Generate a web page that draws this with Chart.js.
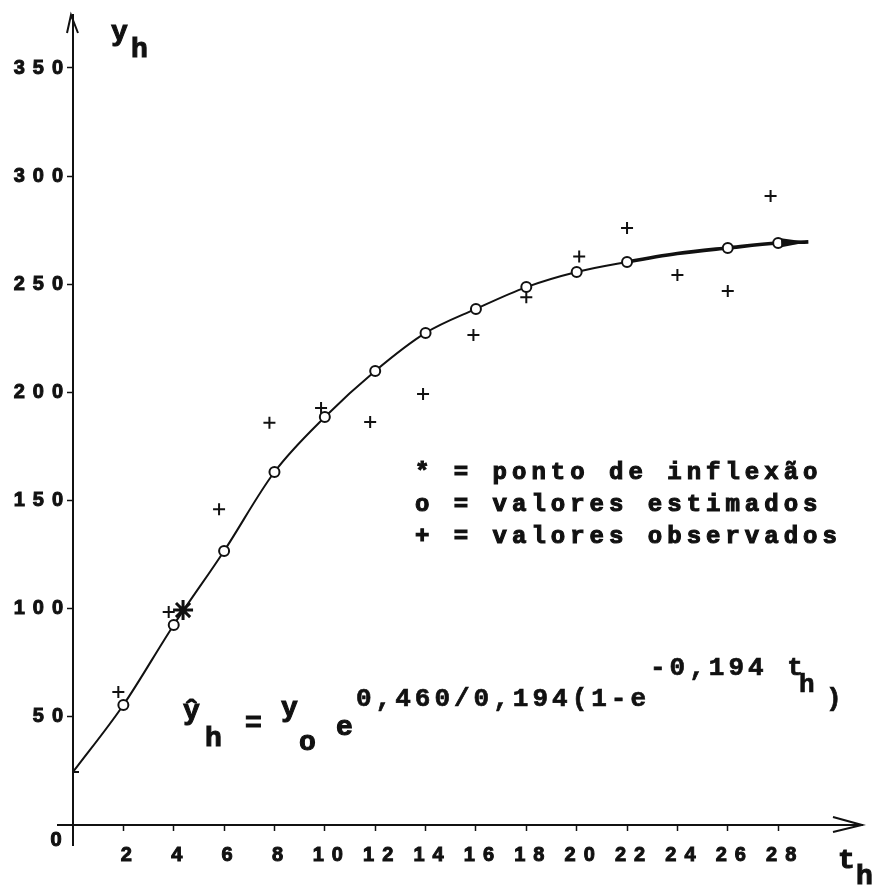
<!DOCTYPE html>
<html>
<head>
<meta charset="utf-8">
<script src="https://cdn.jsdelivr.net/npm/chart.js@4"></script>
<style>
  html, body { margin: 0; background: #fff; }
  canvas { display: block; }
</style>
</head>
<body>
<canvas id="chart" width="881" height="885"></canvas>
<script>
// tick labels
const xTicks = [2, 4, 6, 8, 10, 12, 14, 16, 18, 20, 22, 24, 26, 28];
const yTicks = [50, 100, 150, 200, 250, 300, 350];

// fitted curve
const tCurve = [0, 2, 4, 6, 8, 10, 12, 14, 16, 18, 20, 22, 24, 26, 28, 29.2];
const yCurve = [24.5, 55.5, 92.5, 126.7, 163.2, 188.6, 209.9, 227.5, 238.6, 248.7, 255.7, 260.3, 264.2, 266.8, 269.1, 269.6];

// o = valores estimados
const tEst = [2, 4, 6, 8, 10, 12, 14, 16, 18, 20, 22, 26, 28];
const yEst = [55.5, 92.5, 126.7, 163.2, 188.6, 209.9, 227.5, 238.6, 248.7, 255.7, 260.3, 266.8, 269.1];

// + = valores observados
const tObs = [0, 1.8, 3.8, 5.8, 7.8, 9.85, 11.8, 13.9, 15.9, 18.0, 20.1, 22.0, 24.0, 26.0, 27.7];
const yObs = [24.5, 61.5, 98.5, 146, 186, 192.8, 186.3, 199.3, 226.5, 244, 262.8, 276, 254.3, 246.9, 290.8];

// * = ponto de inflexão
const tInflex = [4.37];
const yInflex = [99.4];

const legendLines = ['* = ponto de inflexão', 'o = valores estimados', '+ = valores observados'];

const ink = '#111';
const toPoints = (xs, ys) => xs.map((x, i) => ({ x: x, y: ys[i] }));
const tickFont = { family: 'Liberation Sans', weight: 'bold', size: 20 };

// fill + thin stroke, to get the heavy typewriter look
function typeText(ctx, text, x, y) {
    ctx.fillText(text, x, y);
    ctx.strokeText(text, x, y);
}

const sketch = {
    id: 'sketch',
    beforeDraw(chart) {
        // spaced-out typewriter digits on the axes
        chart.ctx.letterSpacing = '8px';
    },
    afterDatasetsDraw(chart) {
        // wedge arrowhead at the end of the curve
        const ctx = chart.ctx;
        const pts = chart.getDatasetMeta(0).data;
        const a = pts[pts.length - 2], b = pts[pts.length - 1];
        const dx = b.x - a.x, dy = b.y - a.y, len = Math.hypot(dx, dy);
        const ux = dx / len, uy = dy / len;
        const bx = a.x + ux * 3, by = a.y + uy * 3;
        ctx.save();
        ctx.fillStyle = ink;
        ctx.beginPath();
        ctx.moveTo(bx - uy * 4.5, by + ux * 4.5);
        ctx.lineTo(b.x, b.y);
        ctx.lineTo(bx + uy * 4.5, by - ux * 4.5);
        ctx.closePath();
        ctx.fill();
        ctx.restore();
    },
    afterDraw(chart) {
        const ctx = chart.ctx;
        const area = chart.chartArea;
        const x0 = chart.scales.x.getPixelForValue(0);
        const y0 = chart.scales.y.getPixelForValue(0);
        ctx.save();
        ctx.letterSpacing = '0px';
        ctx.strokeStyle = ink;
        ctx.fillStyle = ink;
        ctx.lineWidth = 2;

        // axis extensions past the origin + arrows
        ctx.beginPath();
        ctx.moveTo(x0, y0); ctx.lineTo(x0, y0 + 21);
        ctx.moveTo(x0 - 16, y0); ctx.lineTo(x0, y0);
        ctx.moveTo(x0 - 6, area.top + 18); ctx.lineTo(x0 - 2, area.top); ctx.lineTo(x0 + 5, area.top + 18);
        ctx.moveTo(area.right - 29, y0 - 8); ctx.lineTo(area.right, y0); ctx.lineTo(area.right - 29, y0 + 7);
        ctx.stroke();

        ctx.lineWidth = 1.1;
        ctx.textBaseline = 'middle';
        ctx.textAlign = 'center';
        ctx.font = 'bold 20px "Liberation Sans"';
        typeText(ctx, '0', 56, 840);

        // axis titles
        ctx.textAlign = 'left';
        ctx.textBaseline = 'alphabetic';
        ctx.font = 'bold 28px "Liberation Mono"';
        typeText(ctx, 'y', 111, 40);
        typeText(ctx, 'h', 131, 57);
        typeText(ctx, 't', 838, 868);
        typeText(ctx, 'h', 856, 884);

        // legend
        ctx.font = 'bold 24px "Liberation Mono"';
        ctx.letterSpacing = '5px';
        legendLines.forEach((line, i) => typeText(ctx, line, 415, 479 + i * 32));

        // model equation
        ctx.font = 'bold 28px "Liberation Mono"';
        ctx.letterSpacing = '0px';
        typeText(ctx, 'ŷ', 183, 719);
        typeText(ctx, 'h', 205, 746);
        typeText(ctx, '=', 245, 731);
        typeText(ctx, 'y', 281, 716);
        typeText(ctx, 'o', 299, 750);
        typeText(ctx, 'e', 336, 735);
        ctx.font = 'bold 26px "Liberation Mono"';
        ctx.lineWidth = 0.7;
        ctx.letterSpacing = '4px';
        typeText(ctx, '0,460/0,194(1-e', 356, 706);
        typeText(ctx, '-0,194 t', 650, 675);
        ctx.letterSpacing = '0px';
        typeText(ctx, 'h', 799, 692);
        typeText(ctx, ')', 826, 706);
        ctx.restore();
    }
};

new Chart(document.getElementById('chart'), {
    type: 'scatter',
    data: {
        datasets: [
            {
                type: 'line',
                label: 'curva',
                data: toPoints(tCurve, yCurve),
                borderColor: ink,
                borderWidth: 2,
                pointRadius: 0,
                cubicInterpolationMode: 'monotone',
                segment: { borderWidth: c => tCurve[c.p0DataIndex] >= 22 ? 3.6 : 2 },
                order: 4
            },
            {
                label: 'valores estimados',
                data: toPoints(tEst, yEst),
                pointStyle: 'circle',
                pointRadius: 5,
                backgroundColor: '#fff',
                borderColor: ink,
                borderWidth: 2,
                order: 2
            },
            {
                label: 'valores observados',
                data: toPoints(tObs, yObs),
                pointStyle: 'cross',
                pointRadius: 6,
                borderColor: ink,
                borderWidth: 2,
                order: 1
            },
            {
                label: 'ponto de inflexão',
                data: toPoints(tInflex, yInflex),
                pointStyle: 'star',
                pointRadius: 10,
                borderColor: ink,
                borderWidth: 3,
                order: 0
            }
        ]
    },
    options: {
        responsive: false,
        animation: false,
        events: [],
        layout: { padding: { top: 15, right: 19, bottom: 0, left: 0 } },
        plugins: { legend: { display: false }, tooltip: { enabled: false } },
        scales: {
            x: {
                type: 'linear',
                min: 0,
                max: 31.33,
                afterBuildTicks: s => { s.ticks = xTicks.map(v => ({ value: v })); },
                afterFit: s => { s.height = 60; },
                border: { display: true, color: ink, width: 2 },
                grid: { drawOnChartArea: false, drawTicks: true, tickLength: 6, tickColor: ink, tickWidth: 1.5 },
                ticks: {
                    color: ink, font: tickFont, padding: 12, labelOffset: 7, maxRotation: 0, autoSkip: false,
                    textStrokeColor: ink, textStrokeWidth: 1
                }
            },
            y: {
                min: 0,
                max: 374.5,
                afterBuildTicks: s => { s.ticks = yTicks.map(v => ({ value: v })); },
                afterFit: s => { s.width = 73; },
                border: { display: true, color: ink, width: 2 },
                grid: { drawOnChartArea: false, drawTicks: true, tickLength: 6, tickColor: ink, tickWidth: 1.5 },
                ticks: {
                    color: ink, font: tickFont, padding: -4, autoSkip: false,
                    textStrokeColor: ink, textStrokeWidth: 1
                }
            }
        }
    },
    plugins: [sketch]
});
</script>
</body>
</html>
